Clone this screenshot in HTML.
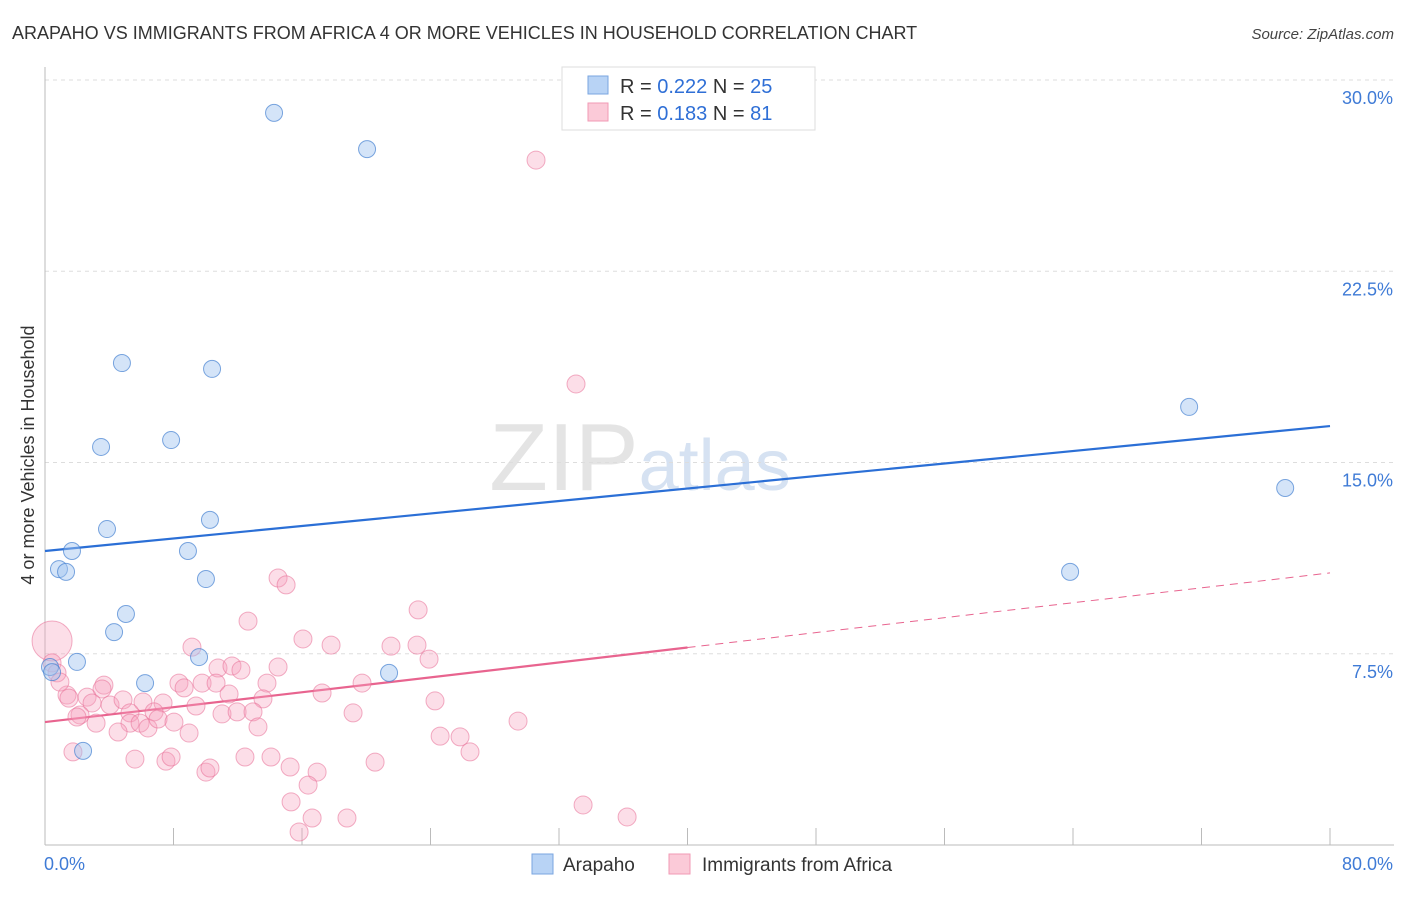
<!DOCTYPE html>
<html><head><meta charset="utf-8"><style>
body{margin:0;background:#fff;font-family:"Liberation Sans",sans-serif;}
svg text{font-family:"Liberation Sans",sans-serif;}
</style></head><body>
<svg id="chart" width="1406" height="892" xmlns="http://www.w3.org/2000/svg">
<text x="12" y="39" font-size="18" fill="#333">ARAPAHO VS IMMIGRANTS FROM AFRICA 4 OR MORE VEHICLES IN HOUSEHOLD CORRELATION CHART</text>
<text x="1394" y="39" font-size="15" fill="#444" font-style="italic" text-anchor="end">Source: ZipAtlas.com</text>
<text x="640" y="490" font-size="96" fill="#e4e4e4" font-family="Liberation Serif" text-anchor="middle">ZIP<tspan fill="#d6e2f2" font-family="Liberation Sans" font-size="72">atlas</tspan></text>
<text transform="translate(34,455) rotate(-90)" font-size="18" fill="#333" text-anchor="middle">4 or more Vehicles in Household</text>
<g id="grid"></g><g id="axes"></g><g id="lines"></g><g id="pts"></g>
<g>
<rect x="562" y="67" width="253" height="63" fill="#fff" stroke="#ddd"/>
<rect x="588" y="76" width="20" height="18" fill="#b8d3f5" stroke="#7aa6e0"/>
<rect x="588" y="103" width="20" height="18" fill="#fbcad8" stroke="#f19ab5"/>
<text x="620" y="93" font-size="20" fill="#333">R = <tspan fill="#2f6fd6">0.222</tspan>   N = <tspan fill="#2f6fd6">25</tspan></text>
<text x="620" y="120" font-size="20" fill="#333">R =  <tspan fill="#2f6fd6">0.183</tspan>   N =  <tspan fill="#2f6fd6">81</tspan></text>
</g>
<g>
<rect x="532" y="854" width="21" height="20" fill="#b8d3f5" stroke="#7aa6e0"/>
<text x="563" y="871" font-size="19" fill="#333">Arapaho</text>
<rect x="669" y="854" width="21" height="20" fill="#fbcad8" stroke="#f19ab5"/>
<text x="702" y="871" font-size="19" fill="#333">Immigrants from Africa</text>
</g>
</svg>
<script>
const yTicks=[7.5,15,22.5,30];
const yTickLabels=["7.5%","15.0%","22.5%","30.0%"];
const xTickLabels=["0.0%","80.0%"];
const blueX=[14.26,20.05,4.79,10.4,3.49,7.85,3.86,10.27,1.68,8.9,0.87,1.31,10.02,5.04,4.30,1.99,9.59,6.23,21.42,2.37,71.23,77.21,63.82,0.31,0.44];
const blueY=[28.71,27.29,18.9,18.67,15.61,15.88,12.39,12.75,11.53,11.53,10.82,10.71,10.43,9.06,8.35,7.18,7.37,6.35,6.75,3.69,17.18,14.0,10.71,6.98,6.78];
const pinkX=[0.44,14.51,15.01,12.64,23.23,16.06,17.81,21.54,23.16,23.91,9.15,14.51,10.77,11.64,12.20,13.82,19.74,17.25,8.34,8.66,9.78,10.65,11.46,13.57,24.28,3.67,3.55,1.37,1.49,2.62,2.93,4.05,4.86,6.10,7.35,6.79,9.40,11.02,11.96,12.95,19.18,2.18,1.99,3.18,5.29,5.29,5.92,6.41,7.04,8.03,4.55,8.97,13.26,24.60,25.84,26.46,1.74,5.60,7.53,7.85,10.02,10.27,12.45,14.07,15.26,16.94,16.38,20.55,15.32,16.63,18.80,15.82,0.44,0.75,0.93,30.57,33.06,29.45,33.50,36.24];
const pinkY=[8.0,10.47,10.20,8.78,9.22,8.08,7.84,7.80,7.84,7.29,7.76,6.98,6.94,7.02,6.86,6.35,6.35,5.96,6.35,6.16,6.35,6.35,5.92,5.73,5.65,6.27,6.12,5.88,5.76,5.80,5.57,5.49,5.69,5.61,5.57,5.22,5.45,5.14,5.22,5.22,5.18,5.10,5.02,4.78,5.18,4.78,4.78,4.59,4.94,4.82,4.43,4.39,4.63,4.27,4.24,3.65,3.65,3.37,3.29,3.45,2.86,3.02,3.45,3.45,3.06,2.86,2.35,3.25,1.69,1.06,1.06,0.51,7.14,6.75,6.39,26.86,18.08,4.86,1.57,1.10];
const blueTrend=[11.53,16.43];
const pinkTrend=[4.82,10.67];
const pinkSolidEnd=40;
const NS="http://www.w3.org/2000/svg";
const X0=45,X1=1330,Y0=845,Y1=80;
const sx=v=>X0+(v/80)*(X1-X0);
const sy=v=>Y0-(v/30)*(Y0-Y1);
function mk(tag,attrs,parent){const e=document.createElementNS(NS,tag);for(const k in attrs)e.setAttribute(k,attrs[k]);document.getElementById(parent).appendChild(e);return e;}
yTicks.forEach((t,i)=>{
 const g=mk('line',{x1:X0,x2:1394,y1:sy(t),y2:sy(t),stroke:'#ddd','stroke-dasharray':'4,4'},'grid');
 
 
 const l=mk('text',{x:1393,y:sy(t)+24,'font-size':18,fill:'#3f7bd6','text-anchor':'end'},'axes');
 l.textContent=yTickLabels[i];
 
 
});
const ax=mk('line',{x1:X0,x2:X0,y1:67,y2:Y0,stroke:'#bbb'},'axes');


const bx=mk('line',{x1:X0,x2:1394,y1:Y0,y2:Y0,stroke:'#bbb'},'axes');


for(let i=1;i<=10;i++){const v=i*8;const t=mk('line',{x1:sx(v),x2:sx(v),y1:Y0-17,y2:Y0,stroke:'#bbb'},'axes');
 
 }
const xl0=mk('text',{x:44,y:870,'font-size':18,fill:'#3f7bd6'},'axes');xl0.textContent=xTickLabels[0];


const xl1=mk('text',{x:1393,y:870,'font-size':18,fill:'#3f7bd6','text-anchor':'end'},'axes');xl1.textContent=xTickLabels[1];


const bt=mk('line',{x1:sx(0),y1:sy(blueTrend[0]),x2:sx(80),y2:sy(blueTrend[1]),stroke:'#2b6fd6','stroke-width':2.2},'lines');


const pm=pinkTrend[0]+(pinkTrend[1]-pinkTrend[0])*pinkSolidEnd/80;
const pt=mk('line',{x1:sx(0),y1:sy(pinkTrend[0]),x2:sx(pinkSolidEnd),y2:sy(pm),stroke:'#e8648f','stroke-width':2.2},'lines');


const pd=mk('line',{x1:sx(pinkSolidEnd),y1:sy(pm),x2:sx(80),y2:sy(pinkTrend[1]),stroke:'#e8648f','stroke-width':1,'stroke-dasharray':'8,6'},'lines');


pinkX.forEach((x,i)=>{const c=mk('circle',{cx:sx(x),cy:sy(pinkY[i]),r:i===0?20:9,fill:'rgba(246,160,188,0.35)',stroke:'rgba(232,110,150,0.55)'},'pts');
 
 });
blueX.forEach((x,i)=>{const c=mk('circle',{cx:sx(x),cy:sy(blueY[i]),r:8.5,fill:'rgba(160,196,240,0.45)',stroke:'rgba(70,130,210,0.7)'},'pts');
 
 });
</script>
</body></html>
